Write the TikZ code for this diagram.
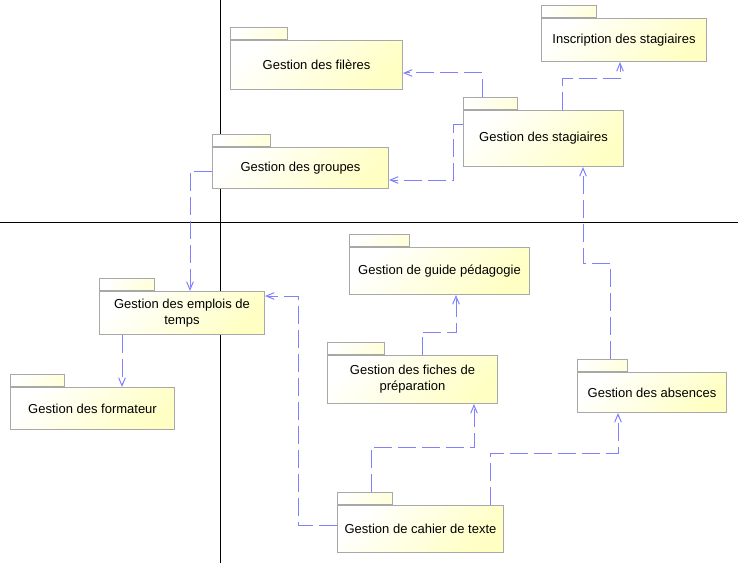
\documentclass[tikz,border=0pt]{standalone}
\usepackage{fontspec}
\setmainfont{Liberation Sans}
\usepackage{tikz}
\usetikzlibrary{calc,arrows.meta}

\definecolor{pkgyellow}{RGB}{255,255,196}
\definecolor{pkgborder}{RGB}{168,168,168}
\definecolor{deplink}{RGB}{128,128,255}

\begin{document}
\begin{tikzpicture}[x=0.75pt,y=-0.75pt,
  pkg/.style={anchor=north west,draw=pkgborder,line width=0.75pt,shade,
    top color=white,bottom color=pkgyellow,shading angle=45,inner sep=0pt,
    align=center,font=\fontsize{9.75}{12}\selectfont},
  pkgtab/.style={anchor=south west,draw=pkgborder,line width=0.75pt,shade,
    top color=white,bottom color=pkgyellow!60!white,shading angle=45,
    inner sep=0pt,minimum height=9pt},
  dep/.style={draw=deplink,line width=0.75pt,dash pattern=on 13.5pt off 4.5pt,
    -{Straight Barb[length=6pt,width=5pt]}}]
\newcommand{\pkgbox}[7]{% name, x, y, width, height, tab width, text
  \node[pkg,minimum width={#4*0.75pt},minimum height={#5*0.75pt}] (#1) at (#2,#3) {#7};
  \node[pkgtab,minimum width={#6*0.75pt}] (#1tab) at (#1.north west) {};
}
\useasboundingbox (0,0) rectangle (738,563);

% quadrants
\draw[line width=0.75pt] (220,0) -- (220,563);
\draw[line width=0.75pt] (0,222) -- (738,222);

% packages
\pkgbox{fil}{230}{40}{172}{49}{57}{Gestion des filères}
\pkgbox{grp}{212}{147}{176}{41}{58}{Gestion des groupes}
\pkgbox{stag}{463}{110}{160}{56}{54}{Gestion des stagiaires}
\pkgbox{insc}{541}{18}{165}{43}{55}{Inscription des stagiaires}
\pkgbox{emp}{99}{291}{165}{43}{55}{Gestion des emplois de\\temps}
\pkgbox{form}{10}{387}{164}{42}{54}{Gestion des formateur}
\pkgbox{guide}{349}{247}{180}{47}{60}{Gestion de guide pédagogie}
\pkgbox{fich}{327}{355}{170}{48}{57}{Gestion des fiches de\\préparation}
\pkgbox{abs}{577}{372}{149}{40}{50}{Gestion des absences}
\pkgbox{cah}{337}{505}{166}{47}{55}{Gestion de cahier de texte}

% dependencies
\draw[dep] ($(stagtab.north west)+(19,0)$) |- ($(fil.north east)+(0,33)$);
\draw[dep] ($(stag.north west)+(0,15)$) -- ++(-10,0) |- ($(grp.north east)+(0,33)$);
\draw[dep] ($(stag.north west)+(99,0)$) -- ++(0,-31) -| ($(insc.south west)+(79,0)$);
\draw[dep] ($(grp.north west)+(0,24)$) -| ($(emp.north west)+(91,0)$);
\draw[dep] ($(emp.south west)+(23,0)$) -- ($(form.north west)+(112,0)$);
\draw[dep] ($(cah.north west)+(0,20)$) -- ++(-39,0) |- ($(emp.north east)+(0,5)$);
\draw[dep] ($(fich.north west)+(95,0)$) -- ++(0,-23) -| ($(guide.south west)+(107,0)$);
\draw[dep] ($(cahtab.north west)+(34,0)$) -- ++(0,-45) -| ($(fich.south west)+(147,0)$);
\draw[dep] ($(cah.north west)+(153,0)$) -- ++(0,-52) -| ($(abs.south west)+(41,0)$);
\draw[dep] ($(abstab.north west)+(33,0)$) -- ++(0,-96) -| ($(stag.south west)+(120,0)$);
\end{tikzpicture}
\end{document}
